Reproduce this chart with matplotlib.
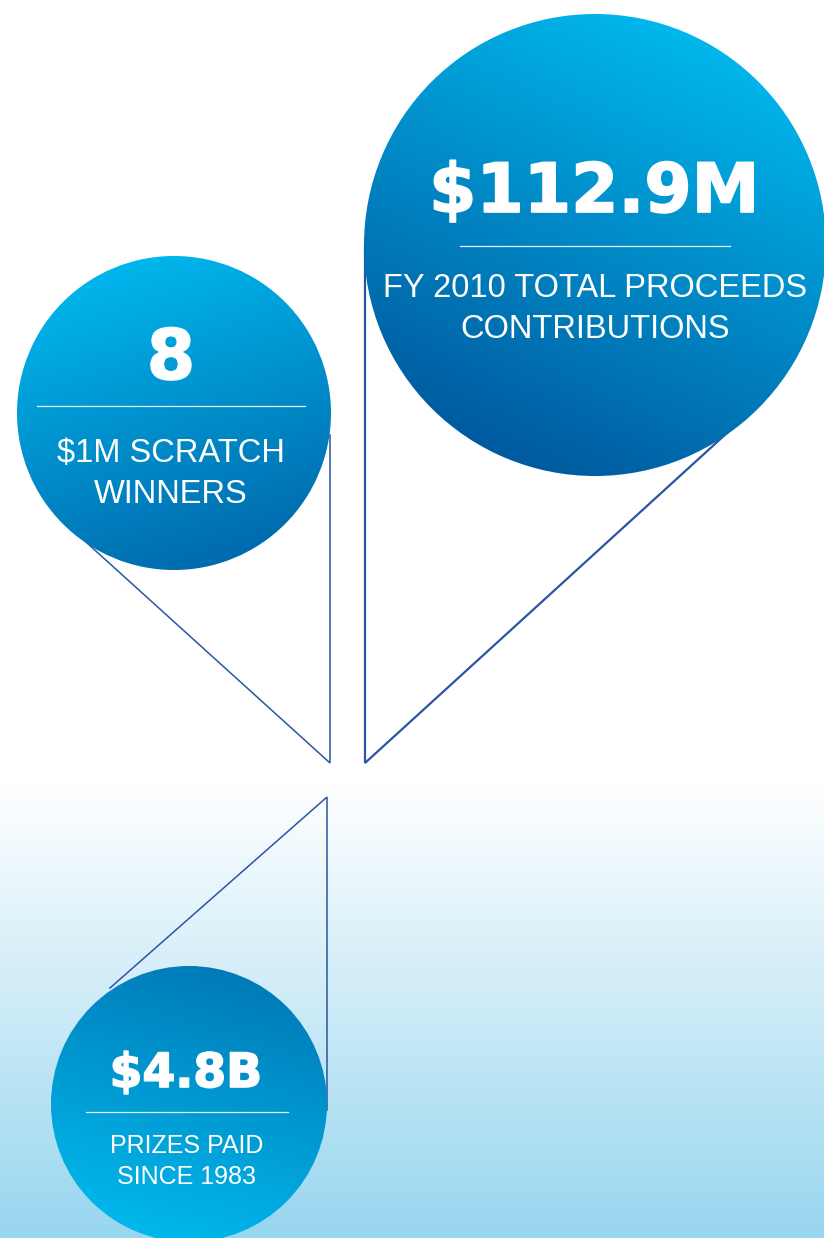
import numpy as np
import matplotlib.pyplot as plt
import matplotlib.patheffects as pe
from matplotlib.patches import Circle
from matplotlib.colors import LinearSegmentedColormap

# headline figures and captions
values = ["$112.9M", "8", "$4.8B"]
captions = [
    ["FY 2010 TOTAL PROCEEDS", "CONTRIBUTIONS"],
    ["$1M SCRATCH", "WINNERS"],
    ["PRIZES PAID", "SINCE 1983"],
]

W, H = 824, 1238
fig = plt.figure(figsize=(W / 100, H / 100), dpi=100)
ax = fig.add_axes([0, 0, 1, 1])
ax.set_xlim(0, W)
ax.set_ylim(H, 0)
ax.axis('off')

# background: white on top, light blue fading in at the bottom
bg_cmap = LinearSegmentedColormap.from_list('bg', ['#ffffff', '#98d6ef'])
yy = np.linspace(0, H, 600).reshape(-1, 1)
bg = np.clip((yy - 785) / (H - 785), 0, 1)
ax.imshow(bg, cmap=bg_cmap, extent=[0, W, H, 0], aspect='auto', zorder=0, vmin=0, vmax=1)

line_col = '#2b55a3'


def strings(pts, lw):
    xs, ys = zip(*pts)
    ax.plot(xs, ys, color=line_col, lw=lw, zorder=1, solid_joinstyle='miter')


# balloon strings
strings([(365, 245), (365, 763), (727, 433)], 1.6)
strings([(330, 435), (330, 763), (87, 543)], 1.1)
strings([(327, 1110), (327, 797), (110, 988)], 1.1)


def balloon(cx, cy, r, light, dark, direction):
    # gradient from dark to light along direction (pointing toward light side)
    n = 300
    xs = np.linspace(cx - r, cx + r, n)
    ys = np.linspace(cy - r, cy + r, n)
    X, Y = np.meshgrid(xs, ys)
    dx, dy = direction
    d = np.hypot(dx, dy)
    t = ((X - cx) * dx + (Y - cy) * dy) / (d * r)
    t = (t + 1) / 2
    cmap = LinearSegmentedColormap.from_list('g', [dark, light])
    im = ax.imshow(t, cmap=cmap, extent=[cx - r, cx + r, cy + r, cy - r],
                   zorder=2, vmin=0, vmax=1, interpolation='bilinear')
    circ = Circle((cx, cy), r, transform=ax.transData, facecolor='none', edgecolor='none')
    ax.add_patch(circ)
    im.set_clip_path(circ)


balloon(595, 245, 231, '#00b7ec', '#005a9f', (0.45, -1))
balloon(174, 413, 157, '#00b6ec', '#006aad', (-0.35, -1))
balloon(189, 1104, 138, '#00b8ec', '#007bb8', (-0.3, 1))

heavy = [pe.withStroke(linewidth=1.2, foreground='white', joinstyle='round')]
bold = dict(color='white', family='DejaVu Sans', weight='bold', ha='center', va='baseline',
            zorder=5, path_effects=heavy)
plain = dict(color='white', family='Liberation Sans', ha='center', va='baseline', zorder=5)

# big balloon
ax.text(594, 212, values[0], fontsize=49, **bold)
ax.plot([460, 730], [246, 246], color='white', lw=0.9, alpha=0.9, zorder=5)
ax.text(595, 297, captions[0][0], fontsize=23.5, **plain)
ax.text(595, 338, captions[0][1], fontsize=23.5, **plain)

# left balloon
ax.text(171, 379, values[1], fontsize=50, **bold)
ax.plot([37, 305], [406, 406], color='white', lw=0.9, alpha=0.9, zorder=5)
ax.text(171, 462, captions[1][0], fontsize=23.5, **plain)
ax.text(171, 503, captions[1][1], fontsize=23.5, **plain)

# bottom balloon
ax.text(186, 1087, values[2], fontsize=34, **bold)
ax.plot([86, 288], [1112, 1112], color='white', lw=0.9, alpha=0.9, zorder=5)
ax.text(187, 1153, captions[2][0], fontsize=18, **plain)
ax.text(187, 1184, captions[2][1], fontsize=18, **plain)

fig.savefig('out.png', dpi=100)
